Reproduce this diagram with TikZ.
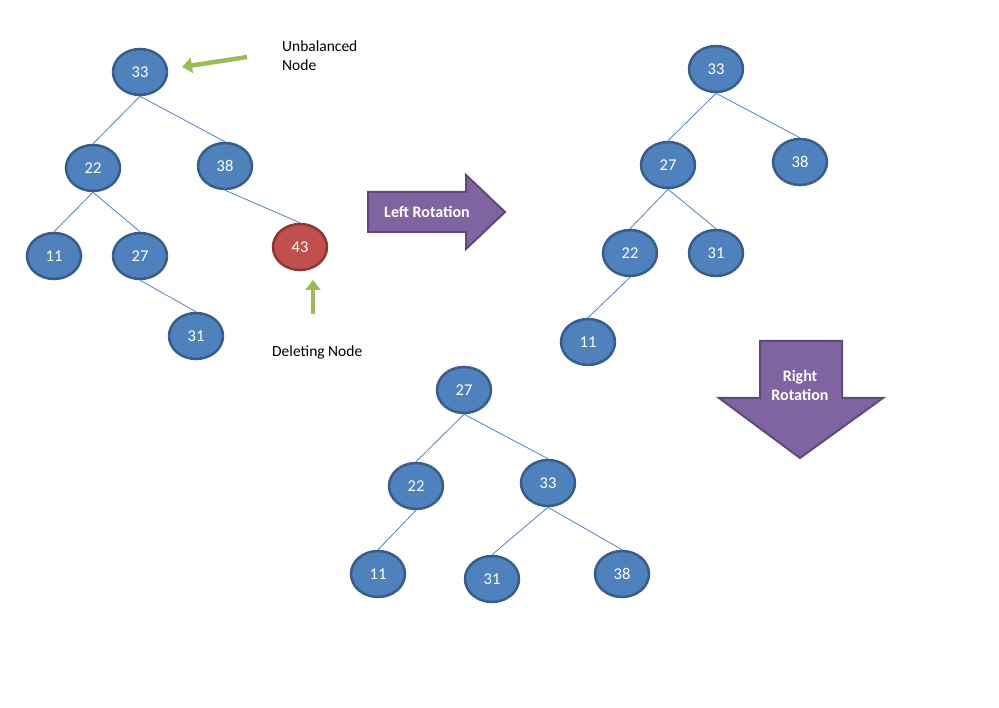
\documentclass[tikz,border=0pt]{standalone}
\usepackage{fontspec}
\setmainfont{Carlito}
\usetikzlibrary{arrows.meta,shapes.geometric}
\definecolor{nodefill}{RGB}{79,129,189}
\definecolor{nodeline}{RGB}{56,93,138}
\definecolor{redfill}{RGB}{192,80,77}
\definecolor{redline}{RGB}{140,56,54}
\definecolor{edgeblue}{RGB}{79,129,189}
\definecolor{greenarrow}{RGB}{155,187,89}
\definecolor{purplefill}{RGB}{128,100,162}
\definecolor{purpleline}{RGB}{95,73,122}
\tikzset{
  tnode/.style={ellipse, draw=nodeline, fill=nodefill, line width=2.5pt, minimum width=54pt, minimum height=46pt, inner sep=0pt, text=white, font=\fontsize{16.5}{18}\selectfont},
  delnode/.style={tnode, draw=redline, fill=redfill},
  edge/.style={draw=edgeblue, line width=0.8pt},
  greenarr/.style={draw=greenarrow, line width=4.5pt, -{Triangle[width=15pt,length=10pt]}},
  bigarrow/.style={fill=purplefill, draw=purpleline, line width=2pt, line join=miter},
  arrowtext/.style={text=white, font=\bfseries\fontsize{16}{19}\selectfont, align=center},
  label/.style={font=\fontsize{15.5}{19}\selectfont, align=left, anchor=base west, inner sep=0pt}
}
\begin{document}
\begin{tikzpicture}[x=1pt,y=-1pt]
\useasboundingbox (0,0) rectangle (999,708);
% Tree 1
\node[tnode] (a33) at (140,72) {33};
\node[tnode] (a22) at (93,168) {22};
\node[tnode] (a38) at (225,166) {38};
\node[tnode] (a11) at (54,256) {11};
\node[tnode] (a27) at (140,256) {27};
\node[tnode] (a31) at (196,336) {31};
\node[delnode] (a43) at (300,247) {43};
\draw[edge] (a33.south) -- (a22.north);
\draw[edge] (a33.south) -- (a38.north);
\draw[edge] (a22.south) -- (a11.north);
\draw[edge] (a22.south) -- (a27.north);
\draw[edge] (a27.south) -- (a31.north);
\draw[edge] (a38.south) -- (a43.north);
% labels and green arrows
\node[label] (unb) at (282,71) {Unbalanced\\Node};
\node[label] (del) at (272,357) {Deleting Node};
\coordinate (g1s) at (247,57);
\coordinate (g1e) at (182,67);
\draw[greenarr] (g1s) -- (g1e);
\coordinate (g2s) at (313,314);
\coordinate (g2e) at (313,280);
\draw[greenarr] (g2s) -- (g2e);
% Left rotation arrow
\draw[bigarrow] (368,192) -- (466,192) -- (466,175) -- (505,212) -- (466,249) -- (466,232) -- (368,232) -- cycle;
\node[arrowtext] (lrot) at (427,212) {Left Rotation};
% Tree 2
\node[tnode] (b33) at (716,69) {33};
\node[tnode] (b27) at (668,165) {27};
\node[tnode] (b38) at (800,162) {38};
\node[tnode] (b22) at (630,253) {22};
\node[tnode] (b31) at (716,253) {31};
\node[tnode] (b11) at (588,342) {11};
\draw[edge] (b33.south) -- (b27.north);
\draw[edge] (b33.south) -- (b38.north);
\draw[edge] (b27.south) -- (b22.north);
\draw[edge] (b27.south) -- (b31.north);
\draw[edge] (b22.south) -- (b11.north);
% Right rotation arrow
\draw[bigarrow] (760,341) -- (842,341) -- (842,398) -- (883,398) -- (800,458) -- (719,398) -- (760,398) -- cycle;
\node[arrowtext] (rrot) at (800,385) {Right\\Rotation};
% Tree 3
\node[tnode] (c27) at (464,390) {27};
\node[tnode] (c22) at (416,486) {22};
\node[tnode] (c33) at (548,483) {33};
\node[tnode] (c11) at (378,574) {11};
\node[tnode] (c31) at (492,579) {31};
\node[tnode] (c38) at (622,574) {38};
\draw[edge] (c27.south) -- (c22.north);
\draw[edge] (c27.south) -- (c33.north);
\draw[edge] (c22.south) -- (c11.north);
\draw[edge] (c33.south) -- (c31.north);
\draw[edge] (c33.south) -- (c38.north);
\end{tikzpicture}
\end{document}
